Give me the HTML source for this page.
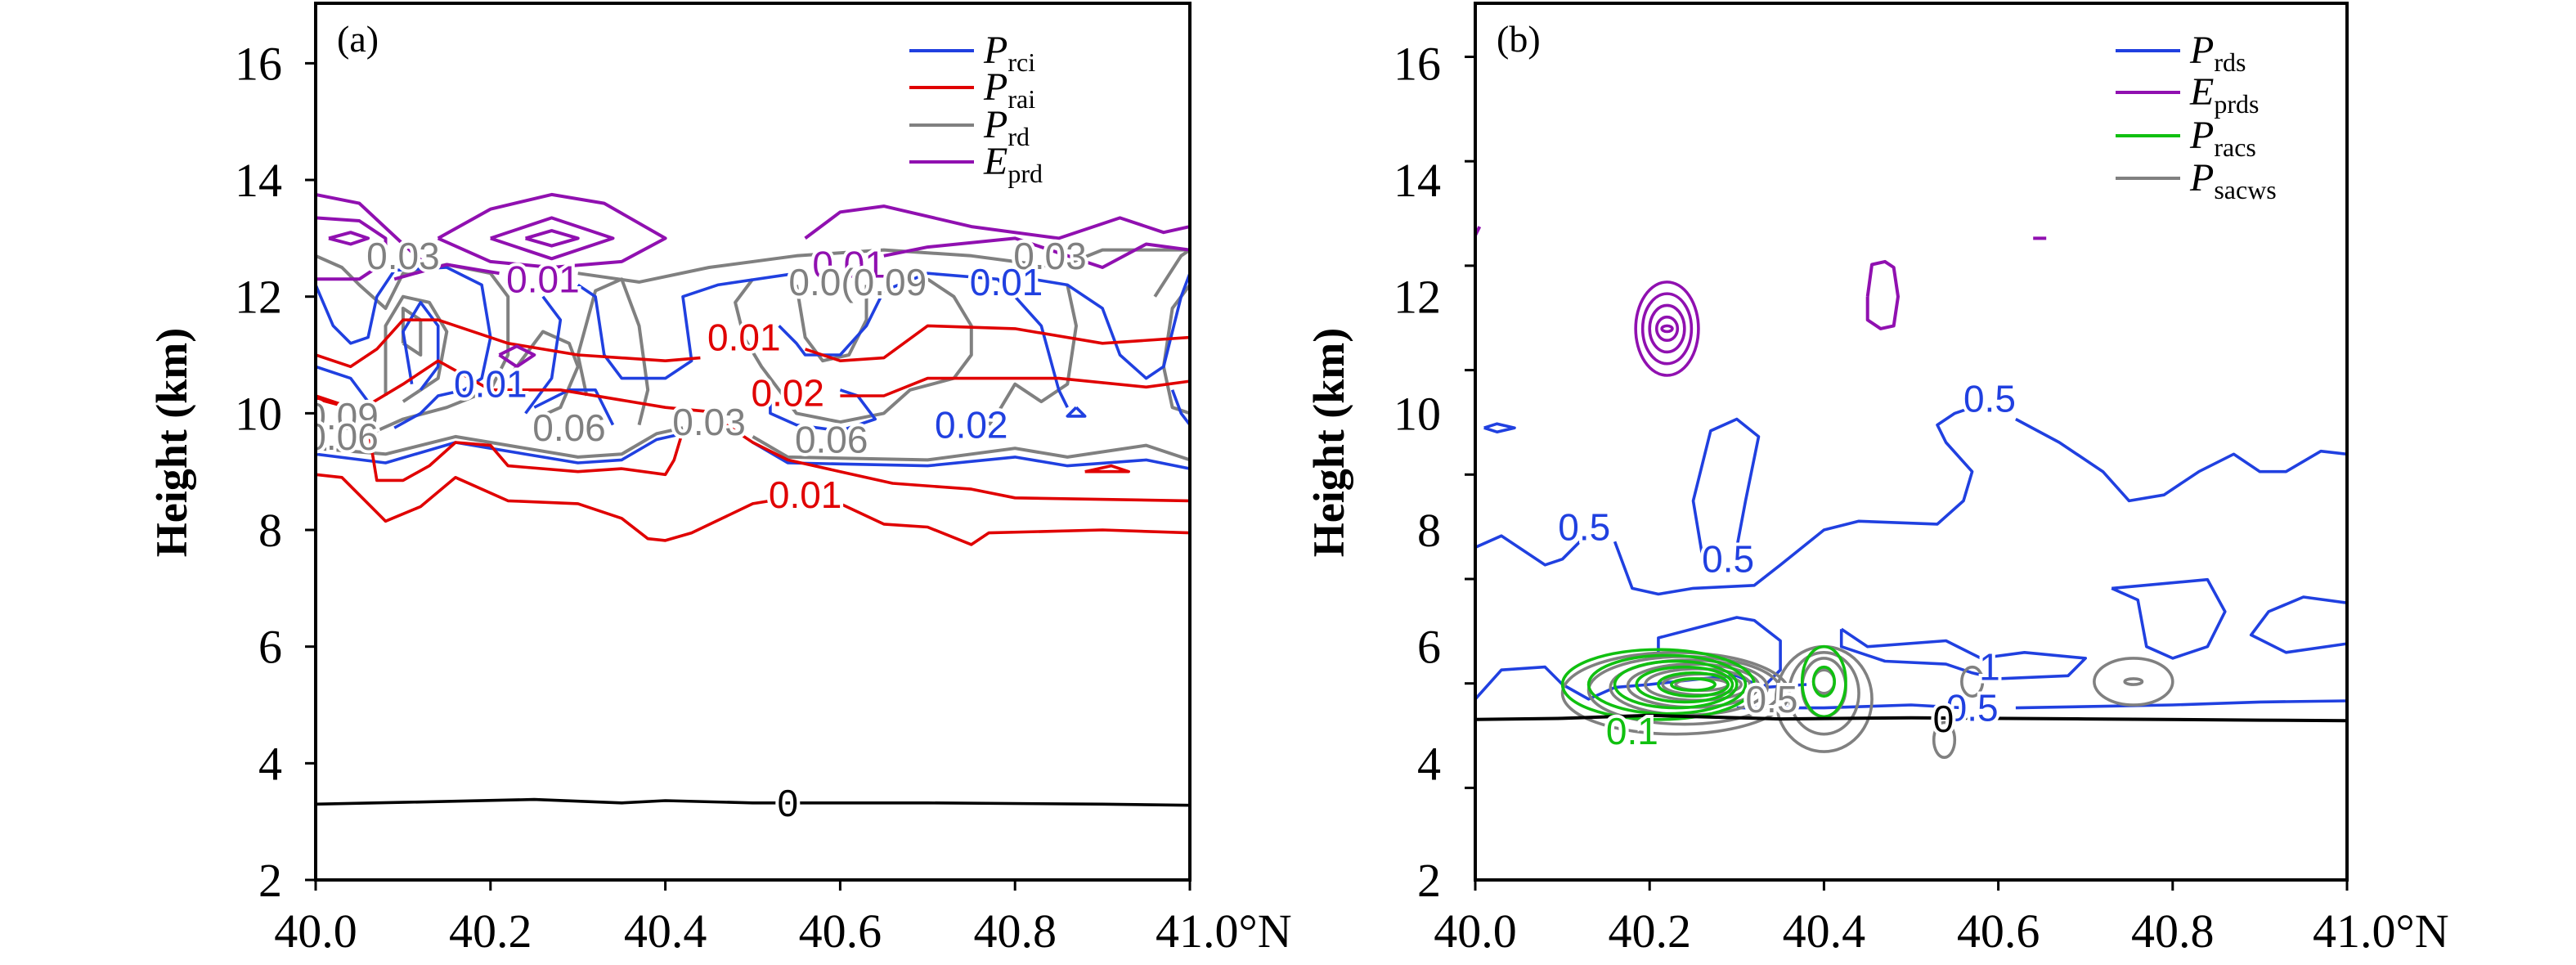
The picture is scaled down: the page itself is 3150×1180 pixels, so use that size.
<!DOCTYPE html>
<html><head><meta charset="utf-8"><style>
html,body{margin:0;padding:0;background:#fff}
svg{display:block}
.tk{font-family:"Liberation Serif",serif;font-size:58px;fill:#000}
.cl{font-family:"Liberation Sans",sans-serif;font-size:46px;paint-order:stroke;stroke:#fff;stroke-width:8px}
.lg{font-family:"Liberation Serif",serif;font-size:48px;fill:#000}
</style></head><body>
<svg id="fig" xmlns="http://www.w3.org/2000/svg" width="3150" height="1180" viewBox="0 0 3150 1180">
<g id="pa"></g>
<g id="pb"></g>
</svg>
<script>
// ---- shared axis data ----
const xTicks=[40.0,40.2,40.4,40.6,40.8,41.0];
const xTickLabels=["40.0","40.2","40.4","40.6","40.8","41.0°N"];
const yTicks=[2,4,6,8,10,12,14,16];
const yTickLabels=["2","4","6","8","10","12","14","16"];
// ---- panel a contours [lat, km] ----
const aZeroLine=[[40,3.3],[40.1,3.33],[40.25,3.38],[40.35,3.32],[40.4,3.36],[40.5,3.32],[40.7,3.32],[40.9,3.3],[41,3.28]];
const aRed1=[[40,8.95],[40.03,8.9],[40.08,8.15],[40.12,8.4],[40.16,8.9],[40.22,8.5],[40.3,8.45],[40.35,8.2],[40.38,7.85],[40.4,7.82],[40.43,7.95],[40.5,8.45],[40.52,8.5]];
const aRed1b=[[40.6,8.45],[40.65,8.1],[40.7,8.05],[40.75,7.75],[40.77,7.95],[40.9,8.0],[41,7.95]];
const aRed2=[[40.0,10.3],[40.04,10.1],[40.06,9.8],[40.065,9.3],[40.07,8.85],[40.1,8.85],[40.13,9.1],[40.16,9.5],[40.2,9.45],[40.22,9.1],[40.3,9.0],[40.35,9.05],[40.4,8.95],[40.41,9.2],[40.42,9.7]];
const aRed2b=[[40.47,9.8],[40.5,9.5],[40.54,9.2],[40.6,9.0],[40.66,8.8],[40.75,8.7],[40.8,8.55],[41,8.5]];
const aRed3=[[40,11.0],[40.04,10.8],[40.07,11.1],[40.1,11.6],[40.14,11.6],[40.22,11.2],[40.3,11.0],[40.4,10.9],[40.44,10.95]];
const aRed3b=[[40.56,11.1],[40.6,10.9],[40.65,10.95],[40.7,11.5],[40.8,11.45],[40.9,11.2],[41,11.3]];
const aRed4=[[40,10.25],[40.05,10.05],[40.1,10.5],[40.14,10.9],[40.2,10.4],[40.28,10.4],[40.4,10.1],[40.47,10.0]];
const aRed4b=[[40.6,10.3],[40.65,10.3],[40.7,10.6],[40.85,10.6],[40.95,10.45],[41,10.55]];
const aRed5=[[40.88,9.0],[40.91,9.1],[40.93,9.0],[40.88,9.0]];
const aBlue1=[[40,9.3],[40.08,9.15],[40.16,9.5],[40.2,9.4],[40.3,9.15],[40.35,9.2],[40.39,9.55],[40.42,9.65]];
const aBlue1b=[[40.5,9.5],[40.54,9.15],[40.7,9.1],[40.8,9.25],[40.86,9.1],[40.95,9.2],[41,9.05]];
const aGray1=[[40,9.4],[40.08,9.3],[40.16,9.6],[40.2,9.5],[40.3,9.25],[40.35,9.3],[40.39,9.65],[40.42,9.75]];
const aGray1b=[[40.5,9.6],[40.54,9.25],[40.7,9.2],[40.8,9.4],[40.86,9.25],[40.95,9.45],[41,9.2]];
const aBlue2=[[40,12.2],[40.02,11.5],[40.04,11.2],[40.06,11.3],[40.07,12.0],[40.09,12.45],[40.15,12.5],[40.19,12.2],[40.2,11.3],[40.19,10.6],[40.17,10.4],[40.14,10.3],[40.12,10.0],[40.09,9.75]];
const aBlue3=[[40.11,10.5],[40.1,11.4],[40.12,11.9],[40.14,11.5],[40.14,10.8],[40.12,10.4]];
const aBlue4=[[40.0,10.8],[40.04,10.6],[40.06,10.2]];
const aBlue5=[[40.3,12.2],[40.32,12.0],[40.33,11.0],[40.35,10.6],[40.4,10.6],[40.43,10.9],[40.42,12.0],[40.46,12.2],[40.55,12.4]];
const aBlue6=[[40.26,12.0],[40.28,11.6],[40.27,10.6],[40.24,10.0]];
const aBlue7=[[40.25,10.1],[40.29,10.4],[40.32,10.4],[40.34,9.8]];
const aBlue8=[[40.53,11.5],[40.55,11.2],[40.56,11.0],[40.6,11.0],[40.63,11.5],[40.65,12.1],[40.7,12.4],[40.78,12.3],[40.8,12.0],[40.83,11.5],[40.85,10.4],[40.86,10.1]];
const aBlue9=[[40.52,10.3],[40.52,10.0],[40.55,9.8],[40.6,9.7],[40.64,9.9],[40.62,10.3],[40.6,10.4]];
const aBlue10=[[40.82,12.3],[40.86,12.2],[40.9,11.8],[40.92,11.0],[40.95,10.6],[40.97,10.8],[40.99,12.0],[41,12.4]];
const aBlue11=[[40.98,10.4],[40.99,10.0],[41,9.8]];
const aBlue12=[[40.87,10.1],[40.86,9.95],[40.88,9.95],[40.87,10.1]];
const aGray2=[[40,12.7],[40.03,12.5],[40.05,12.2],[40.08,11.8],[40.1,12.4],[40.15,12.55],[40.2,12.4],[40.22,12.0],[40.22,11.0],[40.2,10.4],[40.15,10.1],[40.1,9.9],[40.07,9.7]];
const aGray3=[[40.08,10.3],[40.08,11.5],[40.1,12.0],[40.13,11.9],[40.15,11.4],[40.14,10.6],[40.1,10.2]];
const aGray4=[[40.1,11.2],[40.1,11.8],[40.12,11.6],[40.12,11.0],[40.1,11.2]];
const aGray5=[[40.3,12.4],[40.37,12.25],[40.45,12.5],[40.55,12.7],[40.65,12.8],[40.75,12.7],[40.8,12.6],[40.85,12.5],[40.9,12.8],[41,12.8]];
const aGray6=[[40.21,10.4],[40.24,11.0],[40.26,11.4],[40.29,11.2],[40.3,10.8],[40.28,10.1],[40.25,9.9]];
const aGray7=[[40.31,10.3],[40.3,11.0],[40.32,12.1],[40.35,12.3],[40.37,11.5],[40.38,10.4],[40.37,9.8]];
const aGray8=[[40.5,12.3],[40.48,11.9],[40.49,11.3],[40.51,10.8],[40.53,10.4],[40.55,10.0],[40.6,9.85],[40.65,10.0],[40.68,10.4],[40.73,10.6],[40.75,11.0],[40.75,11.5],[40.73,12.0],[40.7,12.3]];
const aGray9=[[40.55,12.2],[40.56,11.3],[40.58,10.9],[40.61,11.0],[40.63,11.6],[40.63,12.2]];
const aGray10=[[40.86,12.2],[40.87,11.5],[40.86,10.5],[40.83,10.2],[40.8,10.5],[40.78,10.0],[40.77,9.8]];
const aGray11=[[40.96,12.0],[40.99,12.7],[41,12.8]];
const aGray12=[[41,12.2],[40.98,11.8],[40.97,10.8],[40.98,10.1],[41,10.0]];
const aPurp1=[[40,13.75],[40.05,13.6],[40.1,12.9],[40.13,12.5]];
const aPurp2=[[40,13.35],[40.05,13.3],[40.08,13.0],[40.08,12.6],[40.05,12.3],[40,12.3]];
const aPurp3=[[40.015,13.0],[40.04,13.1],[40.06,13.0],[40.04,12.9],[40.015,13.0]];
const aPurp4=[[40.14,13.0],[40.2,13.5],[40.27,13.75],[40.33,13.6],[40.4,13.0],[40.35,12.6],[40.27,12.5],[40.2,12.6],[40.14,13.0]];
const aPurp5=[[40.2,13.0],[40.27,13.35],[40.34,13.0],[40.27,12.65],[40.2,13.0]];
const aPurp6=[[40.24,13.0],[40.27,13.13],[40.3,13.0],[40.27,12.87],[40.24,13.0]];
const aPurp7=[[40.09,12.3],[40.15,12.55],[40.21,12.4]];
const aPurp8=[[40.56,13.0],[40.6,13.45],[40.65,13.55],[40.75,13.2],[40.85,13.0],[40.92,13.35],[40.97,13.1],[41,13.2]];
const aPurp9=[[40.65,12.7],[40.7,12.85],[40.8,13.0],[40.9,12.5],[40.95,12.9],[41,12.8]];
const aPurp10=[[40.21,11.0],[40.23,11.15],[40.25,11.0],[40.23,10.8],[40.21,11.0]];
const aLabels=[["0",40.54,3.32,"#000"],["0.01",40.26,12.3,"#9010b0"],["0.03",40.1,12.7,"#808080"],["0.01",40.61,12.55,"#9010b0"],["0.03",40.84,12.7,"#808080"],["0.0(0.09",40.62,12.25,"#808080"],["0.01",40.79,12.25,"#2040e0"],["0.01",40.49,11.3,"#e00000"],["0.01",40.2,10.5,"#2040e0"],["0.02",40.54,10.35,"#e00000"],["0.09",40.03,9.95,"#808080"],["0.06",40.03,9.6,"#808080"],["0.06",40.29,9.75,"#808080"],["0.03",40.45,9.85,"#808080"],["0.06",40.59,9.55,"#808080"],["0.02",40.75,9.8,"#2040e0"],["0.01",40.56,8.6,"#e00000"]];
// ---- panel b contours ----
const bZeroLine=[[40,4.75],[40.1,4.77],[40.2,4.82],[40.35,4.76],[40.5,4.78],[40.7,4.76],[40.9,4.74],[41,4.73]];
const bBlue1=[[40,7.7],[40.03,7.9],[40.08,7.4],[40.1,7.5],[40.12,7.8]];
const bBlue1b=[[40.16,7.8],[40.18,7.0],[40.21,6.9],[40.25,7.0],[40.32,7.05],[40.35,7.4],[40.4,8.0],[40.44,8.15],[40.53,8.1],[40.56,8.5],[40.57,9.0],[40.54,9.5],[40.53,9.8],[40.55,10.0],[40.57,10.1]];
const bBlue1c=[[40.62,9.9],[40.67,9.5],[40.72,9.0],[40.75,8.5],[40.79,8.6],[40.83,9.0],[40.87,9.3],[40.9,9.0],[40.93,9.0],[40.97,9.35],[41,9.3]];
const bBlue2=[[40.26,7.6],[40.25,8.5],[40.27,9.7],[40.3,9.9],[40.325,9.6],[40.31,8.5],[40.3,7.7]];
const bBlue3=[[40.01,9.75],[40.025,9.82],[40.045,9.75],[40.025,9.68],[40.01,9.75]];
const bBlue4=[[40,5.1],[40.03,5.6],[40.08,5.65],[40.1,5.35],[40.13,5.1],[40.16,5.3],[40.2,5.35],[40.26,5.45],[40.3,5.5],[40.33,5.3],[40.38,5.35]];
const bBlue4b=[[40.21,5.9],[40.21,6.15],[40.3,6.5],[40.32,6.45],[40.35,6.1],[40.35,5.6],[40.33,5.3]];
const bBlue5=[[40.3,4.95],[40.4,4.95],[40.5,5.0],[40.56,4.95]];
const bBlue5b=[[40.62,4.95],[40.8,5.0],[40.9,5.05],[41,5.07]];
const bBlue6=[[40.42,6.3],[40.45,6.0],[40.54,6.1],[40.58,5.8],[40.63,5.9],[40.7,5.8],[40.68,5.5],[40.6,5.45],[40.57,5.55],[40.54,5.7],[40.47,5.75],[40.42,6.0],[40.42,6.3]];
const bBlue7=[[40.73,7.0],[40.84,7.15],[40.86,6.6],[40.84,6.0],[40.8,5.8],[40.77,6.0],[40.76,6.8],[40.73,7.0]];
const bBlue8=[[41,6.75],[40.95,6.85],[40.91,6.6],[40.89,6.2],[40.93,5.9],[41,6.05]];
const bPurp1=[[40.0,13.05],[40.005,13.2]];
const bPurp2=[[40.64,13.0],[40.655,13.0]];
const bPurp3=[[40.45,12.0],[40.455,12.55],[40.47,12.6],[40.48,12.5],[40.485,12.0],[40.48,11.5],[40.465,11.45],[40.45,11.6],[40.45,12.0]];
const bPurpRings=[[40.22,11.45,0.036,0.8],[40.22,11.45,0.028,0.6],[40.22,11.45,0.02,0.4],[40.22,11.45,0.012,0.2],[40.22,11.45,0.006,0.05]];
const bGreenRings=[[40.21,5.35,0.11,0.6],[40.22,5.35,0.09,0.5],[40.23,5.35,0.07,0.4],[40.24,5.35,0.055,0.3],[40.25,5.35,0.04,0.2],[40.25,5.35,0.025,0.1],[40.4,5.4,0.025,0.6],[40.4,5.4,0.012,0.25]];
const bGrayRings=[[40.23,5.2,0.13,0.7],[40.24,5.25,0.11,0.58],[40.245,5.3,0.09,0.47],[40.25,5.33,0.075,0.37],[40.255,5.35,0.06,0.27],[40.26,5.35,0.045,0.18],[40.26,5.35,0.03,0.1],[40.4,5.1,0.055,0.9],[40.4,5.2,0.04,0.7],[40.4,5.3,0.025,0.5],[40.4,5.4,0.012,0.2],[40.755,5.4,0.045,0.4],[40.755,5.4,0.01,0.05],[40.57,5.4,0.012,0.25],[40.538,4.4,0.012,0.3]];
const bLabels=[["0.5",40.125,8.05,"#2040e0"],["0.5",40.29,7.5,"#2040e0"],["0.5",40.59,10.25,"#2040e0"],["1",40.59,5.65,"#2040e0"],["0.5",40.57,4.95,"#2040e0"],["0",40.537,4.76,"#000"],["0.5",40.34,5.1,"#808080"],["0.1",40.18,4.55,"#10c010"]];
// ---- legends ----
const aLegend=[["P","rci","#2040e0"],["P","rai","#e00000"],["P","rd","#808080"],["E","prd","#9010b0"]];
const bLegend=[["P","rds","#2040e0"],["E","prds","#9010b0"],["P","racs","#10c010"],["P","sacws","#808080"]];

const NS="http://www.w3.org/2000/svg";
const BLUE="#2040e0",RED="#e00000",GRAY="#808080",PURP="#9010b0",GREEN="#10c010";
const SERIF='font-family:"Liberation Serif",serif';
const T=4,B=1076;
function mk(tag,parent,attrs){const e=document.createElementNS(NS,tag);for(const k in attrs)e.setAttribute(k,attrs[k]);parent.appendChild(e);return e;}
function yS(km){return B-(km-2)*71.33;}

function panel(g,L,R,letter,legend,legX,legRows,tickMode,titleX,labelRight){
  const xS=lat=>L+(lat-40)*(R-L);
  const plot=mk('g',g,{});
  
  
  const cp='clip'+letter;
  const defs=mk('defs',g,{});
  const c=mk('clipPath',defs,{id:cp});
  mk('rect',c,{x:L,y:T,width:R-L,height:B-T});
  plot.setAttribute('clip-path','url(#'+cp+')');
  return {xS,plot,draw(pts,col,w,name){
      const d=pts.map((p,i)=>(i?'L':'M')+xS(p[0]).toFixed(1)+','+yS(p[1]).toFixed(1)).join('');
      const e=mk('path',plot,{d:d,fill:'none',stroke:col,'stroke-width':w||3.6,'stroke-linejoin':'round'});
      
      
    },ring(r,col,name){
      const e=mk('ellipse',plot,{cx:xS(r[0]),cy:yS(r[1]),rx:r[2]*(R-L),ry:r[3]*71.33,fill:'none',stroke:col,'stroke-width':3.6});
      
      
    },label(l){
      const e=mk('text',plot,{x:xS(l[1]),y:yS(l[2])+16,fill:l[3],'text-anchor':'middle',class:'cl'});
      e.textContent=l[0];
      
      
    },frame(){
      const f=mk('rect',g,{x:L,y:T,width:R-L,height:B-T,fill:'none',stroke:'#000','stroke-width':4});
      
      
      xTicks.forEach((v,i)=>{
        const x=xS(v);
        const t=mk('line',g,{x1:x,y1:B,x2:x,y2:B+13,stroke:'#000','stroke-width':3});
        
        
        const tx=mk('text',g,{x:i==5?x-42:x,y:1158,class:'tk',style:SERIF,'text-anchor':i==5?'start':'middle'});
        tx.textContent=xTickLabels[i];
        
        
      });
      yTicks.forEach((v,i)=>{
        const y=yS(v);
        const tx=mk('text',g,{x:labelRight,y:y+20,class:'tk',style:SERIF,'text-anchor':'end'});
        tx.textContent=yTickLabels[i];
        
        
      });
      const ticksY=[];
      if(tickMode==='a'){yTicks.forEach(v=>ticksY.push(yS(v)));}
      else{for(let k=0;k<8;k++)ticksY.push(B-112.6-127.7*k);}
      ticksY.forEach(y=>{
        const t=mk('line',g,{x1:L-13,y1:y,x2:L,y2:y,stroke:'#000','stroke-width':3});
        
        
      });
      const ti=mk('text',g,{x:titleX,y:541,'text-anchor':'middle',transform:'rotate(-90 '+titleX+' 541)',style:SERIF+';font-size:54px;font-weight:bold;fill:#000'});
      ti.textContent='Height (km)';
      
      
      const pl=mk('text',g,{x:L+26,y:63,style:SERIF+';font-size:46px;fill:#000'});
      pl.textContent='('+letter+')';
      
      
      legend.forEach((en,i)=>{
        const y=legRows[i];
        const le=mk('g',g,{});
        
        
        mk('line',le,{x1:legX,y1:y,x2:legX+79,y2:y,stroke:en[2],'stroke-width':4});
        const t=mk('text',le,{x:legX+91,y:y+15,class:'lg',style:SERIF});
        const a=mk('tspan',t,{'font-style':'italic'});a.textContent=en[0];
        const s=mk('tspan',t,{'font-size':'32',dy:'10'});s.textContent=en[1];
      });
    }};
}

// Panel a
const ga=document.getElementById('pa');
const A=panel(ga,386,1455,'a',aLegend,1112,[62,107,153,198],'a',228,345);
[aGray1,aGray1b,aGray2,aGray3,aGray4,aGray5,aGray6,aGray7,aGray8,aGray9,aGray10,aGray11,aGray12].forEach(p=>A.draw(p,GRAY,4,'prd-contour'));
[aBlue1,aBlue1b,aBlue2,aBlue3,aBlue4,aBlue5,aBlue6,aBlue7,aBlue8,aBlue9,aBlue10,aBlue11,aBlue12].forEach(p=>A.draw(p,BLUE,3.6,'prci-contour'));
[aRed1,aRed1b,aRed2,aRed2b,aRed3,aRed3b,aRed4,aRed4b,aRed5].forEach(p=>A.draw(p,RED,3.6,'prai-contour'));
[aPurp1,aPurp2,aPurp3,aPurp4,aPurp5,aPurp6,aPurp7,aPurp8,aPurp9,aPurp10].forEach(p=>A.draw(p,PURP,4,'eprd-contour'));
A.draw(aZeroLine,'#000',3.6,'zero-isotherm');
aLabels.forEach(l=>A.label(l));
A.frame();

// Panel b
const gb=document.getElementById('pb');
const Bp=panel(gb,1804,2870,'b',bLegend,2587,[62,113,166,218],'b',1643,1762);
[bBlue1,bBlue1b,bBlue1c,bBlue2,bBlue3,bBlue4,bBlue4b,bBlue5,bBlue5b,bBlue6,bBlue7,bBlue8].forEach(p=>Bp.draw(p,BLUE,3.6,'prds-contour'));
[bPurp1,bPurp2,bPurp3].forEach(p=>Bp.draw(p,PURP,4,'eprds-contour'));
bPurpRings.forEach(r=>Bp.ring(r,PURP,'eprds-ring'));
bGrayRings.forEach(r=>Bp.ring(r,GRAY,'psacws-ring'));
bGreenRings.forEach(r=>Bp.ring(r,GREEN,'pracs-ring'));
Bp.draw(bZeroLine,'#000',4,'zero-isotherm');
bLabels.forEach(l=>Bp.label(l));
Bp.frame();
</script>
</body></html>
